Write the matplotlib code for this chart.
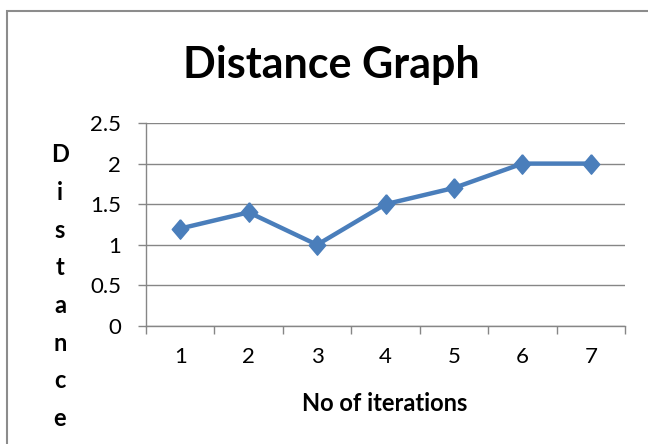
import matplotlib
matplotlib.use('Agg')
import matplotlib.pyplot as plt
from matplotlib.patches import Rectangle

iterations = [1, 2, 3, 4, 5, 6, 7]
distance = [1.2, 1.4, 1.0, 1.5, 1.7, 2.0, 2.0]
y_ticks = [0, 0.5, 1, 1.5, 2, 2.5]
y_tick_labels = ['0', '0.5', '1', '1.5', '2', '2.5']

plt.rcParams['font.family'] = ['Lato', 'DejaVu Sans']
grey = '#868686'
# Excel-style diamond, slightly taller than wide
diamond = [(0, 1), (0.85, 0), (0, -1), (-0.85, 0), (0, 1)]

fig = plt.figure(figsize=(6.48, 4.44), dpi=100)
ax = fig.add_axes([146/648, 1-326/444, 479/648, 203/444])

ax.plot(iterations, distance, color='#4A7EBB', lw=3.2, marker=diamond, ms=14,
        markerfacecolor='#4A7EBB', markeredgecolor='#4A7EBB', zorder=3)

ax.set_xlim(0.5, 7.5)
ax.set_ylim(0, 2.5)
ax.set_xticks([i + 0.5 for i in range(0, 8)])
ax.set_xticklabels([])
ax.set_xticks(iterations, minor=True)
ax.set_xticklabels([str(i) for i in iterations], minor=True)
ax.set_yticks(y_ticks)
ax.set_yticklabels(y_tick_labels)
ax.tick_params(axis='x', which='major', length=6, color=grey, width=1, direction='out')
ax.tick_params(axis='x', which='minor', length=0, pad=15, labelsize=16)
ax.tick_params(axis='y', length=6, color=grey, width=1, pad=12, labelsize=16)
ax.grid(axis='y', color=grey, lw=1)
for s in ['top', 'right']:
    ax.spines[s].set_visible(False)
for s in ['left', 'bottom']:
    ax.spines[s].set_color(grey)
    ax.spines[s].set_linewidth(1)
ax.set_axisbelow(True)

fig.text(331/648, 1-65/444, 'Distance Graph', ha='center', va='center',
         fontsize=31, fontweight='bold')
fig.text(385/648, 1-403/444, 'No of iterations', ha='center', va='center',
         fontsize=17, fontweight='bold')
for k, ch in enumerate('Distance'):
    fig.text(60/648, 1-(155 + 37.6*k)/444, ch, ha='center', va='center',
             fontsize=17, fontweight='bold')

fig.patches.append(Rectangle((7/648, -0.1), 1.2, 1-11/444+0.1, transform=fig.transFigure,
                             fill=False, edgecolor='#8C8C8C', lw=1.5))

fig.savefig('out.png', dpi=100)
